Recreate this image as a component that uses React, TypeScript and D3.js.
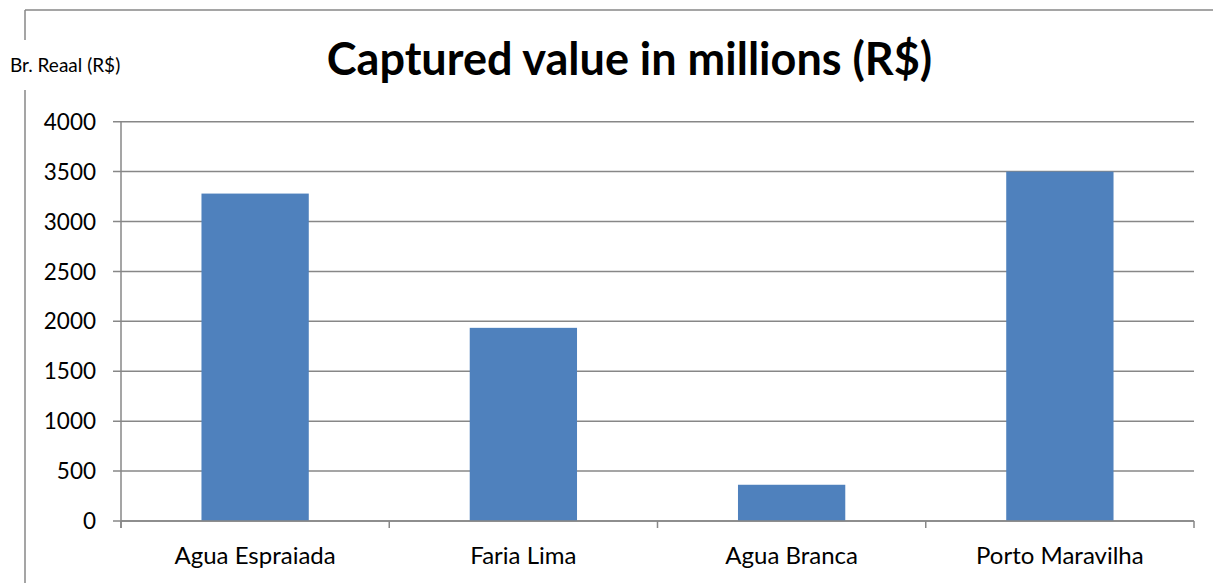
import React from "react";
import * as d3 from "d3";

const categories = ["Agua Espraiada", "Faria Lima", "Agua Branca", "Porto Maravilha"];
const values = [3280, 1935, 363, 3500];
const yTicks = [0, 500, 1000, 1500, 2000, 2500, 3000, 3500, 4000];
const title = "Captured value in millions (R$)";
const axisLabel = "Br. Reaal (R$)";

const W = 1213;
const H = 583;
const FONT = "Lato, 'Open Sans', 'Liberation Sans', sans-serif";

export default function App() {
  const left = 121, right = 1194, top = 121.7, bottom = 521;
  const x = d3.scaleBand<string>().domain(categories).range([left, right]).paddingInner(0.6).paddingOuter(0.3);
  const y = d3.scaleLinear().domain([0, 4000]).range([bottom, top]);
  const step = x.step();
  const boundaries = d3.range(categories.length + 1).map((i) => left + i * step);
  const grid = "#878787";
  return (
    <svg width={W} height={H} style={{ position: "absolute", left: 0, top: 0 }}>
      <rect x={0} y={0} width={W} height={H} fill="#fff" />
      {/* frame */}
      <line x1={25} y1={10} x2={W} y2={10} stroke={grid} strokeWidth={1.5} />
      <line x1={25} y1={10} x2={25} y2={40} stroke={grid} strokeWidth={1.5} />
      <line x1={25} y1={90} x2={25} y2={H} stroke={grid} strokeWidth={1.5} />
      <text x={10} y={72} fontFamily={FONT} fontSize={19} fill="#000">{axisLabel}</text>
      <text x={629.5} y={75} textAnchor="middle" fontFamily={FONT} fontWeight="bold" fontSize={45} fill="#000">{title}</text>
      {/* gridlines */}
      {yTicks.map((t) => (
        <g key={t}>
          <line x1={113} x2={right} y1={y(t)} y2={y(t)} stroke={grid} strokeWidth={1.5} />
          <text x={96} y={y(t)} dy="0.36em" textAnchor="end" fontFamily={FONT} fontSize={22.5} fill="#000">{t}</text>
        </g>
      ))}
      {/* bars */}
      {categories.map((c, i) => (
        <rect key={c} x={x(c)} y={y(values[i])} width={x.bandwidth()} height={bottom - y(values[i])} fill="#4F81BD" />
      ))}
      {/* axes */}
      <line x1={left} x2={left} y1={top} y2={bottom + 7} stroke={grid} strokeWidth={1.5} />
      <line x1={left} x2={right} y1={bottom} y2={bottom} stroke={grid} strokeWidth={1.5} />
      {boundaries.map((b, i) => (
        <line key={i} x1={b} x2={b} y1={bottom} y2={bottom + 7} stroke={grid} strokeWidth={1.5} />
      ))}
      {categories.map((c) => (
        <text key={c} x={(x(c) as number) + x.bandwidth() / 2} y={564} textAnchor="middle" fontFamily={FONT} fontSize={24} fill="#000">{c}</text>
      ))}
    </svg>
  );
}
